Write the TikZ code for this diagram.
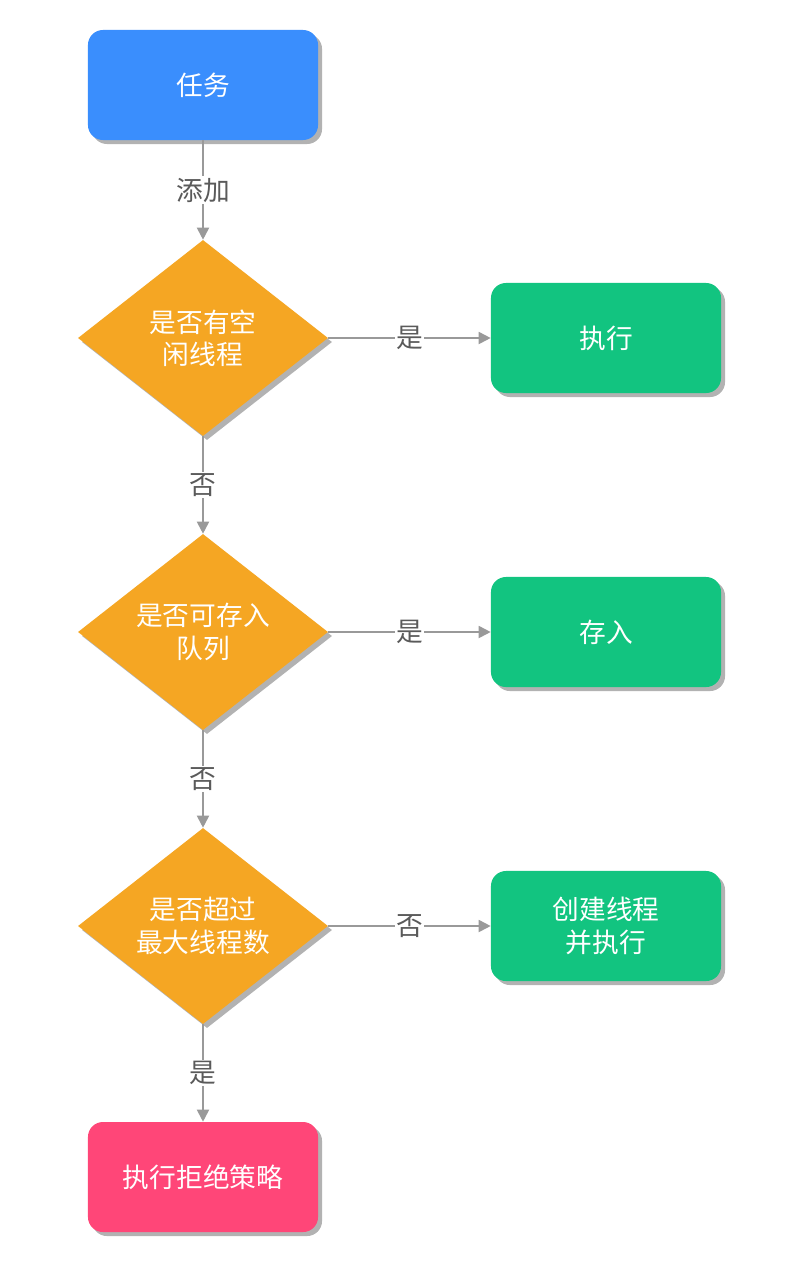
\documentclass[tikz,border=0pt]{standalone}
\usepackage{fontspec}
\setmainfont{Noto Sans CJK SC}
\usepackage{tikz}
\usetikzlibrary{shapes.geometric,arrows.meta,shadows}
\definecolor{taskBlue}{RGB}{58,142,253}
\definecolor{checkOrange}{RGB}{245,166,35}
\definecolor{runGreen}{RGB}{18,196,128}
\definecolor{rejectPink}{RGB}{255,70,120}
\definecolor{flowGray}{RGB}{153,153,153}
\definecolor{labelGray}{RGB}{90,90,90}

\begin{document}
\begin{tikzpicture}[x=0.025cm,y=-0.025cm,
    box/.style={rectangle,rounded corners=0.375cm,minimum width=5.75cm,minimum height=2.75cm,
      text=white,align=center,font=\fontsize{19}{23}\selectfont,
      drop shadow={shadow xshift=0.1cm,shadow yshift=-0.1cm,fill=black!30,opacity=1}},
    decide/.style={diamond,aspect=1.276,inner sep=0pt,minimum width=6.25cm,minimum height=4.9cm,
      fill=checkOrange,text=white,align=center,font=\fontsize{19}{23}\selectfont,
      drop shadow={shadow xshift=0.1cm,shadow yshift=-0.1cm,fill=black!30,opacity=1}},
    flow/.style={draw=flowGray,line width=1.3pt,-{Triangle[length=0.3cm,width=0.3cm]}},
    tag/.style={fill=white,text=labelGray,inner sep=1pt,font=\fontsize{19}{23}\selectfont}]
  \useasboundingbox (0,0) rectangle (798,1284);
  \fill[white] (0,0) rectangle (798,1284);

  % main column
  \node[box,fill=taskBlue] (task) at (203,85) {任务};
  \node[decide] (idle) at (203,338) {是否有空\\闲线程};
  \node[decide] (queue) at (203,632) {是否可存入\\队列};
  \node[decide] (limit) at (203,926) {是否超过\\最大线程数};
  \node[box,fill=rejectPink] (reject) at (203,1177) {执行拒绝策略};

  % right column
  \node[box,fill=runGreen] (run) at (606,338) {执行};
  \node[box,fill=runGreen] (store) at (606,632) {存入};
  \node[box,fill=runGreen] (create) at (606,926) {创建线程\\并执行};

  % connectors
  \draw[flow] (task) -- node[tag] {添加} (idle);
  \draw[flow] (idle) -- node[tag] {是} (run);
  \draw[flow] (idle) -- node[tag] {否} (queue);
  \draw[flow] (queue) -- node[tag] {是} (store);
  \draw[flow] (queue) -- node[tag] {否} (limit);
  \draw[flow] (limit) -- node[tag] {否} (create);
  \draw[flow] (limit) -- node[tag] {是} (reject);
\end{tikzpicture}
\end{document}
